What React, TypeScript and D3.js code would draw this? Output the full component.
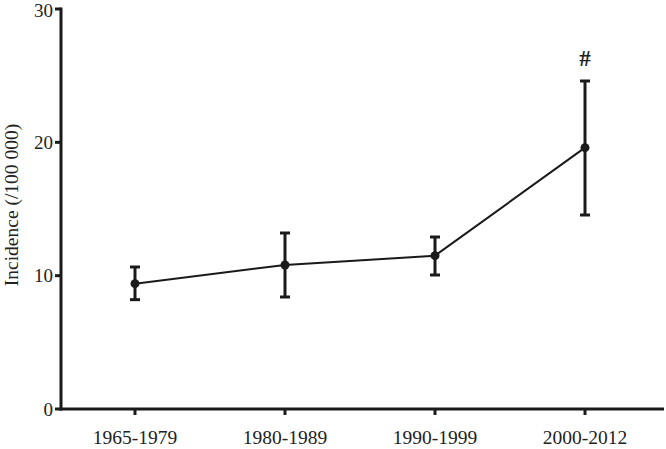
import React from "react";
import * as d3 from "d3";

const categories = ["1965-1979", "1980-1989", "1990-1999", "2000-2012"];
const means = [9.4, 10.8, 11.5, 19.6];
const upper = [10.65, 13.2, 12.9, 24.6];
const lower = [8.2, 8.4, 10.05, 14.55];
const yTicks = [0, 10, 20, 30];
const annotations = ["", "", "", "#"];

const W = 666;
const H = 449;
const font = "'Liberation Serif', 'Times New Roman', serif";

export default function App() {
  const x = d3.scalePoint<string>().domain(categories).range([60, 660]).padding(0.5);
  const y = d3.scaleLinear().domain([0, 30]).range([409, 9]);
  const line = d3
    .line<number>()
    .x((_, i) => x(categories[i]) as number)
    .y((d) => y(d));
  const axisX = 61;
  return (
    <svg width={W} height={H} style={{ position: "absolute", left: 0, top: 0 }}>
      <rect width={W} height={H} fill="#fff" />
      {/* y axis */}
      <line x1={axisX} x2={axisX} y1={y(30) - 1.5} y2={y(0) + 1.5} stroke="#1a1a1a" strokeWidth={3} />
      {yTicks.map((t) => (
        <g key={t}>
          <line x1={axisX - 6} x2={axisX} y1={y(t)} y2={y(t)} stroke="#1a1a1a" strokeWidth={3} />
          <text
            x={axisX - 8}
            y={Math.max(y(t), 10)}
            dy="0.35em"
            textAnchor="end"
            fontFamily={font}
            fontSize={19}
            fill="#222"
          >
            {t}
          </text>
        </g>
      ))}
      {/* x axis */}
      <line x1={axisX - 1.5} x2={664} y1={y(0)} y2={y(0)} stroke="#1a1a1a" strokeWidth={3} />
      {categories.map((c) => (
        <g key={c}>
          <line x1={x(c)} x2={x(c)} y1={y(0)} y2={y(0) + 6} stroke="#1a1a1a" strokeWidth={3} />
          <text x={x(c)} y={444} textAnchor="middle" fontFamily={font} fontSize={19.5} fill="#222">
            {c}
          </text>
        </g>
      ))}
      <text
        transform={`translate(18,${y(15) - 4}) rotate(-90)`}
        textAnchor="middle"
        fontFamily={font}
        fontSize={19.5}
        fill="#222"
      >
        Incidence (/100 000)
      </text>
      {/* line */}
      <path d={line(means) || ""} fill="none" stroke="#1a1a1a" strokeWidth={2} />
      {/* error bars */}
      {categories.map((c, i) => {
        const cx = x(c) as number;
        return (
          <g key={c}>
            <line x1={cx} x2={cx} y1={y(upper[i])} y2={y(lower[i])} stroke="#1a1a1a" strokeWidth={3} />
            <line x1={cx - 5} x2={cx + 5} y1={y(upper[i])} y2={y(upper[i])} stroke="#1a1a1a" strokeWidth={3} />
            <line x1={cx - 5} x2={cx + 5} y1={y(lower[i])} y2={y(lower[i])} stroke="#1a1a1a" strokeWidth={3} />
            <circle cx={cx} cy={y(means[i])} r={4.5} fill="#1a1a1a" />
            {annotations[i] && (
              <text
                x={cx}
                y={y(upper[i]) - 15}
                textAnchor="middle"
                fontFamily={font}
                fontSize={23}
                fontWeight="bold"
                fill="#222"
              >
                {annotations[i]}
              </text>
            )}
          </g>
        );
      })}
    </svg>
  );
}
